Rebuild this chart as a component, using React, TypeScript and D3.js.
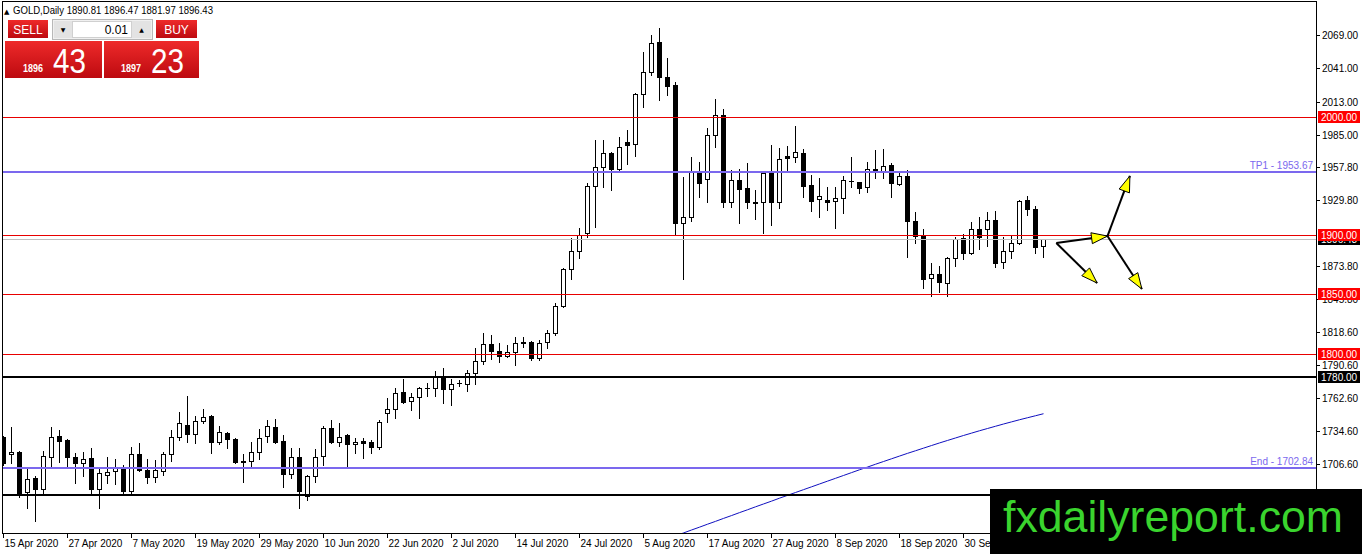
import { useEffect, useRef } from 'react';
import * as d3 from 'd3';

const WIDTH = 1362;
const HEIGHT = 554;

// Header / one-click panel
const symbolTitle = 'GOLD,Daily';
const lotSize = '0.01';
const bidPrice = 1896.43;
const askPrice = 1897.23;

// Daily candles, [open, high, low, close], 15 Apr 2020 onwards
const ohlc: [number, number, number, number][] = [
  [1729.4, 1730.3, 1705.8, 1707.5], [1715.1, 1737.9, 1707.5, 1716.7], [1716.7, 1717.6, 1678.7, 1682.1],
  [1683.0, 1703.2, 1669.4, 1693.9], [1694.8, 1696.5, 1658.5, 1685.5], [1685.5, 1717.6, 1680.4, 1713.4],
  [1712.5, 1737.9, 1704.9, 1729.4], [1730.3, 1735.3, 1708.3, 1726.0], [1726.9, 1727.7, 1704.1, 1712.5],
  [1712.5, 1715.9, 1690.6, 1707.5], [1707.5, 1716.7, 1696.5, 1710.8], [1711.7, 1720.1, 1680.4, 1685.5],
  [1685.5, 1704.1, 1669.4, 1699.0], [1697.3, 1712.5, 1690.6, 1699.8], [1700.7, 1710.8, 1689.7, 1704.1],
  [1704.1, 1705.8, 1680.4, 1683.8], [1683.8, 1721.0, 1682.1, 1715.1], [1715.1, 1724.3, 1700.7, 1701.5],
  [1701.5, 1710.8, 1690.6, 1695.6], [1695.6, 1710.0, 1691.4, 1701.5], [1700.7, 1716.7, 1697.3, 1715.1],
  [1715.1, 1735.3, 1709.1, 1729.4], [1729.4, 1750.5, 1726.9, 1741.2], [1739.6, 1764.0, 1725.2, 1731.9],
  [1731.9, 1747.2, 1724.3, 1742.9], [1742.9, 1753.1, 1741.2, 1746.3], [1747.2, 1748.0, 1715.9, 1725.2],
  [1725.2, 1738.7, 1723.5, 1733.6], [1732.8, 1733.6, 1720.1, 1727.7], [1727.7, 1728.6, 1707.5, 1708.3],
  [1709.1, 1715.1, 1691.4, 1708.3], [1709.1, 1725.2, 1703.2, 1716.7], [1716.7, 1736.2, 1710.8, 1728.6],
  [1730.3, 1743.8, 1725.2, 1738.7], [1737.9, 1744.6, 1724.3, 1725.2], [1726.0, 1731.1, 1687.2, 1698.2],
  [1698.2, 1720.1, 1694.8, 1712.5], [1712.5, 1720.1, 1669.4, 1683.8], [1679.6, 1697.3, 1676.2, 1696.5],
  [1696.5, 1719.3, 1691.4, 1712.5], [1713.4, 1738.7, 1705.8, 1737.0], [1737.0, 1743.8, 1724.3, 1725.2],
  [1725.2, 1741.2, 1721.8, 1729.4], [1731.1, 1731.9, 1703.2, 1723.5], [1723.5, 1728.6, 1715.9, 1725.2],
  [1726.0, 1728.6, 1711.7, 1724.3], [1725.2, 1726.9, 1715.9, 1721.0], [1721.0, 1743.8, 1719.3, 1742.1],
  [1749.7, 1762.4, 1742.1, 1753.1], [1753.1, 1770.8, 1745.5, 1766.6], [1767.4, 1778.4, 1758.1, 1759.0],
  [1759.8, 1766.6, 1752.2, 1763.2], [1763.2, 1771.7, 1745.5, 1770.8], [1770.8, 1775.0, 1764.0, 1771.1],
  [1770.8, 1785.2, 1764.0, 1780.1], [1780.1, 1787.7, 1758.1, 1770.0], [1770.0, 1778.4, 1756.4, 1774.2],
  [1775.0, 1777.6, 1772.5, 1775.2], [1774.2, 1786.0, 1768.3, 1783.5], [1783.5, 1804.6, 1774.2, 1793.6],
  [1793.6, 1817.3, 1791.1, 1808.0], [1808.0, 1815.6, 1795.3, 1802.1], [1802.1, 1808.8, 1792.8, 1797.8],
  [1797.8, 1807.1, 1797.0, 1801.2], [1801.2, 1813.9, 1790.2, 1808.8], [1808.8, 1813.9, 1805.4, 1809.7],
  [1809.7, 1810.5, 1794.5, 1796.1], [1796.1, 1811.4, 1794.5, 1808.8], [1809.7, 1819.8, 1804.6, 1817.3],
  [1817.3, 1842.6, 1815.6, 1840.1], [1840.1, 1872.2, 1839.2, 1871.3], [1871.3, 1897.5, 1862.9, 1886.5],
  [1886.5, 1906.0, 1880.6, 1900.1], [1901.7, 1944.0, 1898.4, 1941.4], [1941.4, 1980.3, 1906.8, 1957.5],
  [1957.5, 1980.3, 1940.6, 1969.3], [1969.3, 1970.2, 1938.1, 1955.8], [1955.8, 1982.8, 1954.1, 1974.4],
  [1978.6, 1988.7, 1960.0, 1976.1], [1976.9, 2020.0, 1966.8, 2019.2], [2019.2, 2054.6, 2008.2, 2037.7],
  [2037.7, 2069.0, 2035.2, 2062.2], [2063.1, 2074.9, 2014.1, 2033.5], [2033.5, 2049.6, 2018.3, 2025.9],
  [2026.8, 2029.3, 1900.1, 1910.2], [1910.2, 1949.0, 1862.9, 1915.3], [1915.3, 1965.9, 1911.9, 1953.3],
  [1953.3, 1961.7, 1932.2, 1944.0], [1947.4, 1990.4, 1927.9, 1984.5], [1984.5, 2014.9, 1974.4, 2001.4],
  [2001.4, 2006.5, 1923.7, 1927.9], [1927.9, 1955.0, 1923.7, 1946.5], [1946.5, 1955.8, 1910.2, 1938.9],
  [1939.8, 1960.9, 1922.9, 1927.9], [1927.9, 1938.1, 1913.6, 1927.6], [1927.9, 1953.3, 1901.7, 1952.4],
  [1952.4, 1976.1, 1908.5, 1927.9], [1927.9, 1973.5, 1922.9, 1964.3], [1966.8, 1975.2, 1953.3, 1965.1],
  [1965.9, 1992.1, 1961.7, 1970.2], [1969.3, 1972.7, 1932.2, 1941.4], [1942.3, 1950.7, 1920.3, 1928.8],
  [1930.5, 1948.2, 1915.3, 1933.0], [1929.6, 1940.6, 1921.2, 1927.9], [1928.8, 1940.6, 1906.0, 1931.3],
  [1931.3, 1949.9, 1918.6, 1946.5], [1945.7, 1965.9, 1940.6, 1945.9], [1944.8, 1945.2, 1935.5, 1939.8],
  [1940.6, 1961.7, 1936.4, 1955.8], [1955.8, 1971.9, 1948.2, 1954.1], [1954.1, 1972.7, 1948.2, 1958.3],
  [1959.2, 1960.9, 1932.2, 1944.0], [1943.1, 1953.3, 1942.3, 1949.9], [1949.9, 1955.0, 1881.5, 1911.9],
  [1911.9, 1919.5, 1893.3, 1899.2], [1899.2, 1905.1, 1855.3, 1862.9], [1863.7, 1876.4, 1848.5, 1867.1],
  [1867.1, 1873.9, 1851.9, 1860.3], [1859.5, 1881.5, 1848.5, 1880.6], [1880.6, 1898.4, 1873.9, 1896.7],
  [1897.5, 1900.9, 1879.8, 1884.8], [1884.8, 1911.0, 1884.0, 1905.1], [1905.1, 1915.3, 1888.2, 1898.4],
  [1905.1, 1919.5, 1890.8, 1912.7], [1912.7, 1920.3, 1873.0, 1876.4], [1877.2, 1898.4, 1872.2, 1886.5],
  [1886.5, 1899.2, 1880.6, 1893.3], [1893.3, 1929.6, 1892.5, 1928.8], [1929.6, 1933.0, 1916.9, 1922.0],
  [1922.0, 1924.5, 1884.8, 1889.9], [1890.81, 1896.47, 1881.97, 1896.43],
];

// one label every 8 bars
const dateLabels = [
  '15 Apr 2020', '27 Apr 2020', '7 May 2020', '19 May 2020', '29 May 2020', '10 Jun 2020',
  '22 Jun 2020', '2 Jul 2020', '14 Jul 2020', '24 Jul 2020', '5 Aug 2020', '17 Aug 2020',
  '27 Aug 2020', '8 Sep 2020', '18 Sep 2020', '30 Sep 2020', '12 Oct 2020',
];
const labelEvery = 8;

// 1901.80 and 1678.60 are hidden under the 1900 box / watermark, so left out
const priceTicks = [
  2069.0, 2041.0, 2013.0, 1985.0, 1957.8, 1929.8, 1873.8, 1845.8,
  1818.6, 1790.6, 1762.6, 1734.6, 1706.6,
];

// moving average, starts at bar index 83
const maStart = 83;
const maValues = [
  1643.4, 1645.9, 1648.3, 1650.8, 1653.2, 1655.7, 1658.1, 1660.6, 1663.0, 1665.5,
  1667.9, 1670.4, 1672.8, 1675.2, 1677.7, 1680.1, 1682.5, 1684.9, 1687.3, 1689.7,
  1692.1, 1694.5, 1696.9, 1699.3, 1701.7, 1704.0, 1706.4, 1708.7, 1711.0, 1713.3,
  1715.6, 1717.8, 1720.0, 1722.2, 1724.4, 1726.5, 1728.6, 1730.7, 1732.7, 1734.7,
  1736.6, 1738.5, 1740.4, 1742.2, 1744.0, 1745.7, 1747.4, 1749.1,
];

// horizontal levels
const redLevels = [2000, 1900, 1850, 1800];
const blackLevels = [1780, 1680.4];
const labelledBlack = [1780];
const blueLevels = [
  { name: 'TP1', value: 1953.67 },
  { name: 'End', value: 1702.84 },
];

// scenario arrows, [bar index, price]
const arrows: { from: [number, number]; to: [number, number] }[] = [
  { from: [131.6, 1893.4], to: [136.7, 1859.6] },
  { from: [131.6, 1893.4], to: [138.0, 1899.3] },
  { from: [138.0, 1899.3], to: [140.8, 1950.1] },
  { from: [138.0, 1899.3], to: [142.3, 1854.5] },
];

export default function App() {
  const svgRef = useRef<SVGSVGElement>(null);

  useEffect(() => {
    if (!svgRef.current) return;
    const svg = d3.select(svgRef.current);
    svg.selectAll('*').remove();

    const font = '"Liberation Sans", Arial, sans-serif';
    const plot = { left: 3, top: 2, right: 1316, bottom: 533 };

    const x = d3.scaleLinear().domain([0, ohlc.length - 1]).range([3.5, 1043.5]);
    const y = d3.scaleLinear().domain([1706.6, 2069]).range([464, 35.3]);
    const crisp = (v: number) => Math.round(v) + 0.5;
    const barX = (i: number) => Math.floor(x(i)) + 0.5;

    svg.append('rect').attr('width', WIDTH).attr('height', HEIGHT).attr('fill', 'white');

    const defs = svg.append('defs');
    defs
      .append('clipPath')
      .attr('id', 'plot-clip')
      .append('rect')
      .attr('x', plot.left)
      .attr('y', plot.top)
      .attr('width', plot.right - plot.left)
      .attr('height', plot.bottom - plot.top);

    const redGrad = defs
      .append('linearGradient')
      .attr('id', 'red-grad')
      .attr('x1', 0)
      .attr('y1', 0)
      .attr('x2', 0)
      .attr('y2', 1);
    redGrad.append('stop').attr('offset', '0%').attr('stop-color', '#ee2a2a');
    redGrad.append('stop').attr('offset', '100%').attr('stop-color', '#bd0a10');

    const g = svg.append('g').attr('clip-path', 'url(#plot-clip)');

    // Moving average
    const maLine = d3
      .line<number>()
      .x((d, i) => x(i + maStart))
      .y(d => y(d))
      .curve(d3.curveMonotoneX);
    g.append('path')
      .datum(maValues)
      .attr('d', maLine)
      .attr('fill', 'none')
      .attr('stroke', '#1010c0')
      .attr('stroke-width', 1);

    // Candles
    ohlc.forEach(([o, h, l, c], i) => {
      const cx = barX(i);
      g.append('line')
        .attr('x1', cx)
        .attr('x2', cx)
        .attr('y1', crisp(y(h)) - 0.5)
        .attr('y2', crisp(y(l)) + 0.5)
        .attr('stroke', 'black')
        .attr('stroke-width', 1);
      const top = crisp(y(Math.max(o, c)));
      const bottom = crisp(y(Math.min(o, c)));
      if (bottom - top < 1) {
        g.append('line')
          .attr('x1', cx - 2.5)
          .attr('x2', cx + 2.5)
          .attr('y1', top)
          .attr('y2', top)
          .attr('stroke', 'black');
      } else {
        g.append('rect')
          .attr('x', cx - 2)
          .attr('y', top)
          .attr('width', 4)
          .attr('height', bottom - top)
          .attr('fill', c >= o ? 'white' : 'black')
          .attr('stroke', 'black')
          .attr('stroke-width', 1);
      }
    });

    // Horizontal levels
    const last = ohlc[ohlc.length - 1];
    g.append('line')
      .attr('x1', plot.left)
      .attr('x2', plot.right)
      .attr('y1', crisp(y(last[3])))
      .attr('y2', crisp(y(last[3])))
      .attr('stroke', '#c0c0c0');

    redLevels.forEach(v => {
      g.append('line')
        .attr('x1', plot.left)
        .attr('x2', plot.right)
        .attr('y1', crisp(y(v)))
        .attr('y2', crisp(y(v)))
        .attr('stroke', '#e80000')
        .attr('stroke-width', 1)
        .attr('shape-rendering', 'crispEdges');
    });

    blackLevels.forEach(v => {
      g.append('line')
        .attr('x1', plot.left)
        .attr('x2', plot.right)
        .attr('y1', Math.round(y(v)))
        .attr('y2', Math.round(y(v)))
        .attr('stroke', 'black')
        .attr('stroke-width', 2);
    });

    blueLevels.forEach(d => {
      g.append('line')
        .attr('x1', plot.left)
        .attr('x2', plot.right)
        .attr('y1', Math.round(y(d.value)))
        .attr('y2', Math.round(y(d.value)))
        .attr('stroke', '#7b68ee')
        .attr('stroke-width', 2);
      g.append('text')
        .attr('x', plot.right - 3)
        .attr('y', Math.round(y(d.value)) - 3)
        .attr('text-anchor', 'end')
        .attr('fill', '#7b68ee')
        .attr('font-family', font)
        .attr('font-size', '10px')
        .text(`${d.name} - ${d.value.toFixed(2)}`);
    });

    // Arrows
    arrows.forEach(a => {
      const x1 = x(a.from[0]);
      const y1 = y(a.from[1]);
      const x2 = x(a.to[0]);
      const y2 = y(a.to[1]);
      g.append('line')
        .attr('x1', x1)
        .attr('y1', y1)
        .attr('x2', x2)
        .attr('y2', y2)
        .attr('stroke', 'black')
        .attr('stroke-width', 2);
      const ang = Math.atan2(y2 - y1, x2 - x1);
      const len = 16;
      const half = 5.5;
      const bx = x2 - len * Math.cos(ang);
      const by = y2 - len * Math.sin(ang);
      const px = -Math.sin(ang) * half;
      const py = Math.cos(ang) * half;
      g.append('path')
        .attr('d', `M${x2},${y2}L${bx + px},${by + py}L${bx - px},${by - py}Z`)
        .attr('fill', '#ffff00')
        .attr('stroke', 'black')
        .attr('stroke-width', 1)
        .attr('stroke-linejoin', 'round');
    });

    // Frame
    svg.append('rect')
      .attr('x', plot.left - 0.5)
      .attr('y', plot.top - 0.5)
      .attr('width', plot.right - plot.left + 1)
      .attr('height', plot.bottom - plot.top + 1)
      .attr('fill', 'none')
      .attr('stroke', 'black');

    // Price axis
    priceTicks.forEach(v => {
      const ty = crisp(y(v));
      svg.append('line')
        .attr('x1', plot.right)
        .attr('x2', plot.right + 4)
        .attr('y1', ty)
        .attr('y2', ty)
        .attr('stroke', 'black');
      svg.append('text')
        .attr('x', plot.right + 6)
        .attr('y', ty)
        .attr('dy', '0.35em')
        .attr('font-family', font)
        .attr('font-size', '10px')
        .attr('fill', 'black')
        .text(v.toFixed(2));
    });

    const priceBox = (v: number, fill: string) => {
      const by = Math.round(y(v));
      svg.append('rect')
        .attr('x', plot.right + 2)
        .attr('y', by - 6)
        .attr('width', 42)
        .attr('height', 12)
        .attr('fill', fill);
      svg.append('text')
        .attr('x', plot.right + 5)
        .attr('y', by)
        .attr('dy', '0.35em')
        .attr('font-family', font)
        .attr('font-size', '10px')
        .attr('fill', 'white')
        .text(v.toFixed(2));
    };
    priceBox(last[3], 'black');
    labelledBlack.forEach(v => priceBox(v, 'black'));
    redLevels.forEach(v => priceBox(v, '#ff0000'));

    // Time axis
    dateLabels.forEach((label, k) => {
      const tx = barX(k * labelEvery);
      svg.append('line')
        .attr('x1', tx)
        .attr('x2', tx)
        .attr('y1', plot.bottom)
        .attr('y2', plot.bottom + 5)
        .attr('stroke', 'black');
      svg.append('text')
        .attr('x', tx + 1)
        .attr('y', 547)
        .attr('font-family', font)
        .attr('font-size', '10px')
        .attr('fill', 'black')
        .text(label);
    });

    // Header
    svg.append('text')
      .attr('x', 4)
      .attr('y', 14)
      .attr('font-family', '"DejaVu Sans", sans-serif')
      .attr('font-size', '7px')
      .text('\u25B2');
    svg.append('text')
      .attr('x', 13)
      .attr('y', 14)
      .attr('font-family', font)
      .attr('font-size', '10.5px')
      .attr('textLength', 200)
      .attr('lengthAdjust', 'spacingAndGlyphs')
      .text(`${symbolTitle}  ${last.map(v => v.toFixed(2)).join(' ')}`);

    // One-click trading panel
    const panel = svg.append('g');
    panel.append('rect').attr('x', 8).attr('y', 20).attr('width', 40).attr('height', 18).attr('fill', 'url(#red-grad)');
    panel.append('rect').attr('x', 156).attr('y', 20).attr('width', 41).attr('height', 18).attr('fill', 'url(#red-grad)');
    panel.append('rect').attr('x', 5).attr('y', 41).attr('width', 97).attr('height', 37).attr('fill', 'url(#red-grad)');
    panel.append('rect').attr('x', 104).attr('y', 41).attr('width', 95).attr('height', 37).attr('fill', 'url(#red-grad)');
    panel.append('rect').attr('x', 52.5).attr('y', 19.5).attr('width', 100).attr('height', 20).attr('fill', '#f0f0f0').attr('stroke', '#b8b8b8');
    panel.append('rect').attr('x', 54).attr('y', 21).attr('width', 18).attr('height', 17).attr('fill', '#e3e3e3');
    panel.append('rect').attr('x', 72.5).attr('y', 21.5).attr('width', 59).attr('height', 16).attr('fill', 'white').attr('stroke', '#d0d0d0');
    panel.append('rect').attr('x', 132).attr('y', 21).attr('width', 19).attr('height', 17).attr('fill', '#e3e3e3');
    panel.append('text').attr('x', 63).attr('y', 32).attr('text-anchor', 'middle').attr('font-family', '"DejaVu Sans", sans-serif').attr('font-size', '6px').text('\u25BC');
    panel.append('text').attr('x', 141.5).attr('y', 32).attr('text-anchor', 'middle').attr('font-family', '"DejaVu Sans", sans-serif').attr('font-size', '6px').text('\u25B2');
    panel.append('text').attr('x', 128).attr('y', 34).attr('text-anchor', 'end').attr('font-family', font).attr('font-size', '12px').text(lotSize);
    panel.append('text').attr('x', 28).attr('y', 34).attr('text-anchor', 'middle').attr('font-family', font).attr('font-size', '12px').attr('fill', 'white').text('SELL');
    panel.append('text').attr('x', 176.5).attr('y', 34).attr('text-anchor', 'middle').attr('font-family', font).attr('font-size', '12px').attr('fill', 'white').text('BUY');

    const bigPrice = (v: number, smallX: number, bigX: number) => {
      const [whole, frac] = v.toFixed(2).split('.');
      panel.append('text')
        .attr('x', smallX)
        .attr('y', 72)
        .attr('font-family', font)
        .attr('font-size', '11px')
        .attr('font-weight', 'bold')
        .attr('fill', 'white')
        .attr('textLength', 20)
        .attr('lengthAdjust', 'spacingAndGlyphs')
        .text(whole);
      panel.append('text')
        .attr('x', bigX)
        .attr('y', 73)
        .attr('font-family', font)
        .attr('font-size', '35px')
        .attr('fill', 'white')
        .attr('textLength', 33)
        .attr('lengthAdjust', 'spacingAndGlyphs')
        .text(frac);
    };
    bigPrice(bidPrice, 23, 53);
    bigPrice(askPrice, 121, 151);

    // Watermark
    svg.append('rect').attr('x', 990).attr('y', 489).attr('width', 372).attr('height', 65).attr('fill', 'black');
    svg.append('text')
      .attr('x', 1003)
      .attr('y', 532)
      .attr('font-family', font)
      .attr('font-size', '44px')
      .attr('fill', '#3ad42e')
      .attr('textLength', 340)
      .attr('lengthAdjust', 'spacingAndGlyphs')
      .text('fxdailyreport.com');
  }, []);

  return (
    <svg
      ref={svgRef}
      width={WIDTH}
      height={HEIGHT}
      style={{ position: 'absolute', left: 0, top: 0, display: 'block' }}
    ></svg>
  );
}
